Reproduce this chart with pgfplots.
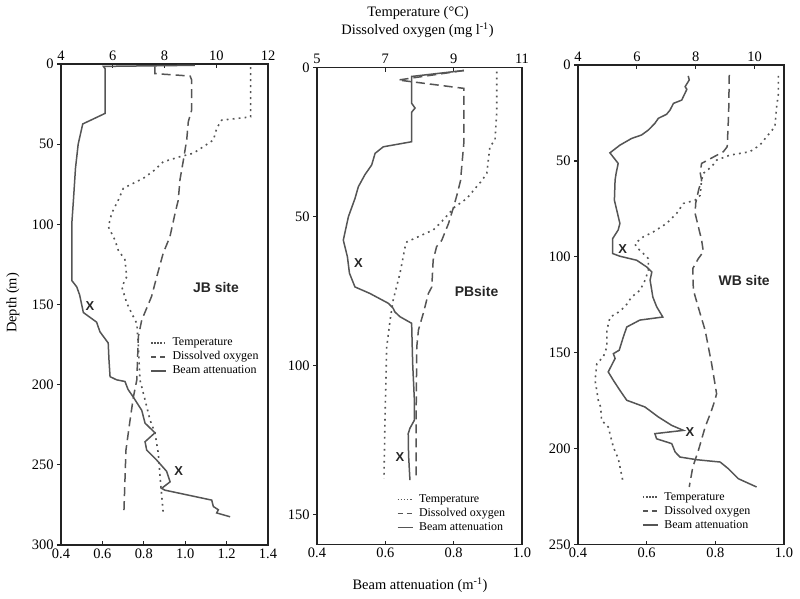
\documentclass[border=0pt]{standalone}
\usepackage{fontspec}
\setmainfont{Liberation Serif}
\newfontfamily\sitefont{Liberation Sans}
\usepackage{pgfplots}
\pgfplotsset{compat=1.18}
\definecolor{curve}{RGB}{85,85,85}
\definecolor{frame}{RGB}{35,35,35}
\tikzset{
  temp/.style={draw=curve, line width=1.6bp, dash pattern=on 1.8bp off 4.2bp},
  dox/.style={draw=curve, line width=1.5bp, dash pattern=on 9bp off 5bp},
  beam/.style={draw=curve, line width=1.5bp},
  legtemp/.style={draw=curve, line width=1.5bp, dash pattern=on 1.5bp off 1.6bp},
  legdox/.style={draw=curve, line width=1.8bp, dash pattern=on 5bp off 4bp},
  legbeam/.style={draw=curve, line width=1.8bp},
  xlab/.style={font=\sitefont\bfseries\fontsize{13}{15}\selectfont, text=black!85},
  site/.style={font=\sitefont\bfseries\fontsize{14}{16}\selectfont, text=black!85},
}
\pgfplotsset{
  base/.style={scale only axis, y dir=reverse, ymin=0,
    /pgf/number format/assume math mode=true,
    tick label style={font=\rmfamily\fontsize{14.5}{17}\selectfont, text=black},
    axis line style={draw=frame, line width=1.5bp},
    major tick length=4bp,
    every tick/.style={draw=frame, line width=1.2bp}},
  legs/.style={legend style={draw=none, fill=none, anchor=north west,
      font=\rmfamily\fontsize{12}{14}\selectfont, inner sep=0pt, row sep=0bp,
      nodes={inner sep=1.5bp, text height=8.5bp, text depth=2.5bp}},
    legend cell align=left,
    legend image code/.code={\draw[##1] (0bp,0bp) -- (15bp,0bp); \path (19bp,0bp);}},
  onedec/.style={xticklabel style={/pgf/number format/.cd, fixed, fixed zerofill, precision=1}},
}
\begin{document}
\begin{tikzpicture}
\useasboundingbox (0,0) rectangle (800bp,599bp);
%================ Panel 1: JB =================
\begin{axis}[base, at={(61bp,54bp)}, anchor=south west, width=207bp, height=481bp,
  xmin=0.4, xmax=1.4, ymax=300, xtick=\empty, ytick={0,50,...,300}, ytick pos=left, tick align=outside]
\end{axis}
\begin{axis}[base, at={(61bp,54bp)}, anchor=south west, width=207bp, height=481bp,
  xmin=4, xmax=12, ymax=300, axis x line*=top, hide y axis, tick align=inside, xtick={4,6,8,10,12}]
\addplot[temp] coordinates {(11.33,2) (11.33,33) (10.21,35) (10.02,40) (9.89,47.4) (9.5,51.6) (9.11,55.7) (8.6,57.8) (7.95,61) (7.63,66) (7.18,71.3) (6.41,77.5) (6.21,85) (5.96,93) (5.83,101.5) (6.09,110) (6.21,116) (6.47,122) (6.54,132.7) (6.35,139) (6.54,149) (6.73,155.5) (6.93,161.8) (6.99,176) (7.05,197) (7.25,209.6) (7.44,222) (7.63,230) (7.76,242.8) (7.83,257.5) (7.95,280)};
\addplot[dox] coordinates {(7.63,1.5) (7.63,6) (8.99,7.5) (9.05,10) (9.05,28.7) (8.92,36) (8.86,47) (8.73,60) (8.6,72) (8.53,85) (8.41,93) (8.21,107.7) (7.95,118) (7.7,132.7) (7.5,145) (7.12,159.7) (6.99,170) (6.93,197) (6.8,207.5) (6.67,222) (6.51,240.8) (6.43,280)};
\end{axis}
\begin{axis}[base, legs, onedec, at={(61bp,54bp)}, anchor=south west, width=207bp, height=481bp,
  xmin=0.4, xmax=1.4, ymax=300, axis x line*=bottom, hide y axis, tick align=inside,
  xtick={0.4,0.6,0.8,1.0,1.2,1.4},
  legend style={at={(axis description cs:0.43,0.435)}}]
\addlegendimage{legtemp}\addlegendentry{Temperature}
\addlegendimage{legdox}\addlegendentry{Dissolved oxygen}
\addlegendimage{legbeam}\addlegendentry{Beam attenuation}
\addplot[beam, forget plot] coordinates {(1.047,0.8) (0.605,1.5) (0.613,3) (0.613,30.8) (0.505,37.4) (0.483,50) (0.47,65) (0.46,85) (0.452,100) (0.452,135) (0.476,139) (0.49,144) (0.508,155) (0.572,161) (0.588,167) (0.628,174) (0.632,185) (0.637,195) (0.669,197) (0.709,198) (0.724,203) (0.748,207.5) (0.79,216) (0.806,224) (0.854,230) (0.806,235.6) (0.814,240.8) (0.862,247) (0.91,254) (0.927,260.6) (0.886,264.7) (0.902,265.8) (0.975,267.8) (1.128,272) (1.136,276) (1.16,278) (1.152,280) (1.217,282.4)};
\node[xlab] at (axis cs:0.54,151) {X};
\node[xlab] at (axis cs:0.968,254) {X};
\node[site] at (axis cs:1.149,139.5) {JB site};
\end{axis}
%================ Panel 2: PB =================
\begin{axis}[base, at={(317bp,54.5bp)}, anchor=south west, width=205bp, height=477bp,
  xmin=0.4, xmax=1.0, ymax=160, xtick=\empty, ytick={0,50,100,150}, ytick pos=left, tick align=outside]
\end{axis}
\begin{axis}[base, at={(317bp,54.5bp)}, anchor=south west, width=205bp, height=477bp,
  xmin=5, xmax=11, ymax=160, axis x line*=top, hide y axis, tick align=inside, xtick={5,7,9,11}]
\addplot[temp] coordinates {(10.26,1.4) (10.26,15) (10.21,24.3) (10.06,26.6) (9.97,35.5) (9.82,38) (9.67,40) (9.38,44) (9.04,46.7) (8.6,52.3) (8.4,54.5) (7.63,58.5) (7.58,60.1) (7.43,69) (7.23,78) (7.14,84.7) (7.04,93.7) (6.99,118.3) (6.96,138)};
\addplot[dox] coordinates {(9.3,1) (7.38,4.2) (9.3,7) (9.3,25) (9.2,38) (9.09,43) (9.0,46.7) (8.85,52.3) (8.65,58) (8.5,60.1) (8.4,64.6) (8.36,73.6) (8.26,75.8) (8.11,82.5) (7.97,88) (7.92,93.7) (7.9,118.3) (7.9,138.4)};
\end{axis}
\begin{axis}[base, legs, onedec, at={(317bp,54.5bp)}, anchor=south west, width=205bp, height=477bp,
  xmin=0.4, xmax=1.0, ymax=160, axis x line*=bottom, hide y axis, tick align=inside,
  xtick={0.4,0.6,0.8,1.0},
  legend style={at={(axis description cs:0.388,0.1094)}}]
\addlegendimage{legtemp}\addlegendentry{Temperature}
\addlegendimage{legdox}\addlegendentry{Dissolved oxygen}
\addlegendimage{legbeam}\addlegendentry{Beam attenuation}
\addplot[beam, forget plot] coordinates {(0.83,1) (0.677,3) (0.677,12) (0.687,13.6) (0.677,15) (0.677,24.9) (0.594,26.6) (0.57,28.8) (0.56,32.7) (0.54,36) (0.521,40) (0.511,44) (0.492,50) (0.477,57.9) (0.489,63.5) (0.495,69) (0.511,73.6) (0.555,75.8) (0.609,79.1) (0.623,80.8) (0.628,82) (0.643,83.6) (0.677,85.8) (0.68,99.3) (0.685,111.6) (0.685,118.3) (0.672,121) (0.667,122.8) (0.668,130) (0.672,138.4)};
\node[xlab] at (axis cs:0.521,65.5) {X};
\node[xlab] at (axis cs:0.643,130.8) {X};
\node[site] at (axis cs:0.867,75) {PBsite};
\end{axis}
%================ Panel 3: WB =================
\begin{axis}[base, at={(578bp,54.5bp)}, anchor=south west, width=206bp, height=479.5bp,
  xmin=0.4, xmax=1.0, ymax=250, xtick=\empty, ytick={0,50,...,250}, ytick pos=left, tick align=outside]
\end{axis}
\begin{axis}[base, at={(578bp,54.5bp)}, anchor=south west, width=206bp, height=479.5bp,
  xmin=4, xmax=11, ymax=250, axis x line*=top, hide y axis, tick align=inside, xtick={4,6,8,10}]
\addplot[temp] coordinates {(10.81,5.7) (10.81,15) (10.75,21.8) (10.69,32.2) (10.41,37.4) (10.18,41.8) (9.84,45.2) (9.16,47) (8.71,49.6) (8.54,53) (8.26,56.5) (8.2,60) (8.15,68) (7.98,70.5) (7.58,72.2) (7.35,77.4) (7.01,82.6) (6.56,87) (6.22,89.6) (5.94,93) (5.97,94.8) (6.16,97.4) (6.39,100.9) (6.39,107) (6.28,112.2) (6.11,117.4) (5.82,121) (5.6,126) (5.31,129.6) (5.09,131.4) (4.98,138.3) (4.98,147) (4.86,152.2) (4.64,155.7) (4.58,164.4) (4.69,174.8) (4.77,178.3) (4.8,185.3) (5.03,188.8) (5.2,199.2) (5.37,205.3) (5.52,216.6)};
\addplot[dox] coordinates {(9.14,5.2) (9.12,25) (9.07,42.6) (8.94,45.2) (8.2,51.3) (8.15,56) (8.2,60) (8.1,65) (8.0,72) (7.98,77.4) (8.2,91.3) (8.26,97.4) (8.09,100.9) (7.9,106.1) (7.92,117.4) (8.15,129.6) (8.32,138.3) (8.54,155.7) (8.71,171.4) (8.65,174.8) (8.54,180) (8.32,188.8) (8.09,201) (7.9,209.7) (7.78,220)};
\end{axis}
\begin{axis}[base, legs, onedec, at={(578bp,54.5bp)}, anchor=south west, width=206bp, height=479.5bp,
  xmin=0.4, xmax=1.0, ymax=250, axis x line*=bottom, hide y axis, tick align=inside,
  xtick={0.4,0.6,0.8,1.0},
  legend style={at={(axis description cs:0.31,0.114)}}]
\addlegendimage{legtemp}\addlegendentry{Temperature}
\addlegendimage{legdox}\addlegendentry{Dissolved oxygen}
\addlegendimage{legbeam}\addlegendentry{Beam attenuation}
\addplot[beam, forget plot] coordinates {(0.721,5.7) (0.724,7.8) (0.712,11.3) (0.717,12.7) (0.702,18.3) (0.678,20) (0.668,23.5) (0.658,25.7) (0.634,27.8) (0.624,30.4) (0.605,33.9) (0.585,36.5) (0.556,38.3) (0.522,41.8) (0.493,45.8) (0.517,51.3) (0.511,56.5) (0.508,60) (0.506,70.5) (0.522,82.6) (0.517,86) (0.501,90.5) (0.501,98.3) (0.522,99.7) (0.571,101.8) (0.6,105.3) (0.615,107.9) (0.61,112.2) (0.618,121) (0.629,126) (0.647,131.4) (0.58,133) (0.542,136.6) (0.532,141.8) (0.52,148.7) (0.503,150.5) (0.508,153) (0.488,160) (0.503,164.4) (0.522,169.6) (0.542,174.8) (0.595,178.3) (0.634,183.5) (0.673,187.9) (0.707,190.5) (0.624,192.2) (0.629,194.9) (0.673,197.4) (0.683,201.8) (0.697,204.4) (0.746,205.8) (0.814,207) (0.838,210.5) (0.867,215.7) (0.92,220)};
\node[xlab] at (axis cs:0.53,96) {X};
\node[xlab] at (axis cs:0.726,191.4) {X};
\node[site] at (axis cs:0.884,112.6) {WB site};
\end{axis}
%================ Titles =================
\node[font=\fontsize{14.5}{17}\selectfont] at (418bp,586bp) {Temperature (°C)};
\node[font=\fontsize{14.5}{17}\selectfont] at (417.5bp,568.5bp) {Dissolved oxygen (mg l\textsuperscript{-1})};
\node[font=\fontsize{14.5}{17}\selectfont] at (420bp,14bp) {Beam attenuation (m\textsuperscript{-1})};
\node[font=\fontsize{14.5}{17}\selectfont, rotate=90] at (13bp,296bp) {Depth (m)};
\end{tikzpicture}
\end{document}
